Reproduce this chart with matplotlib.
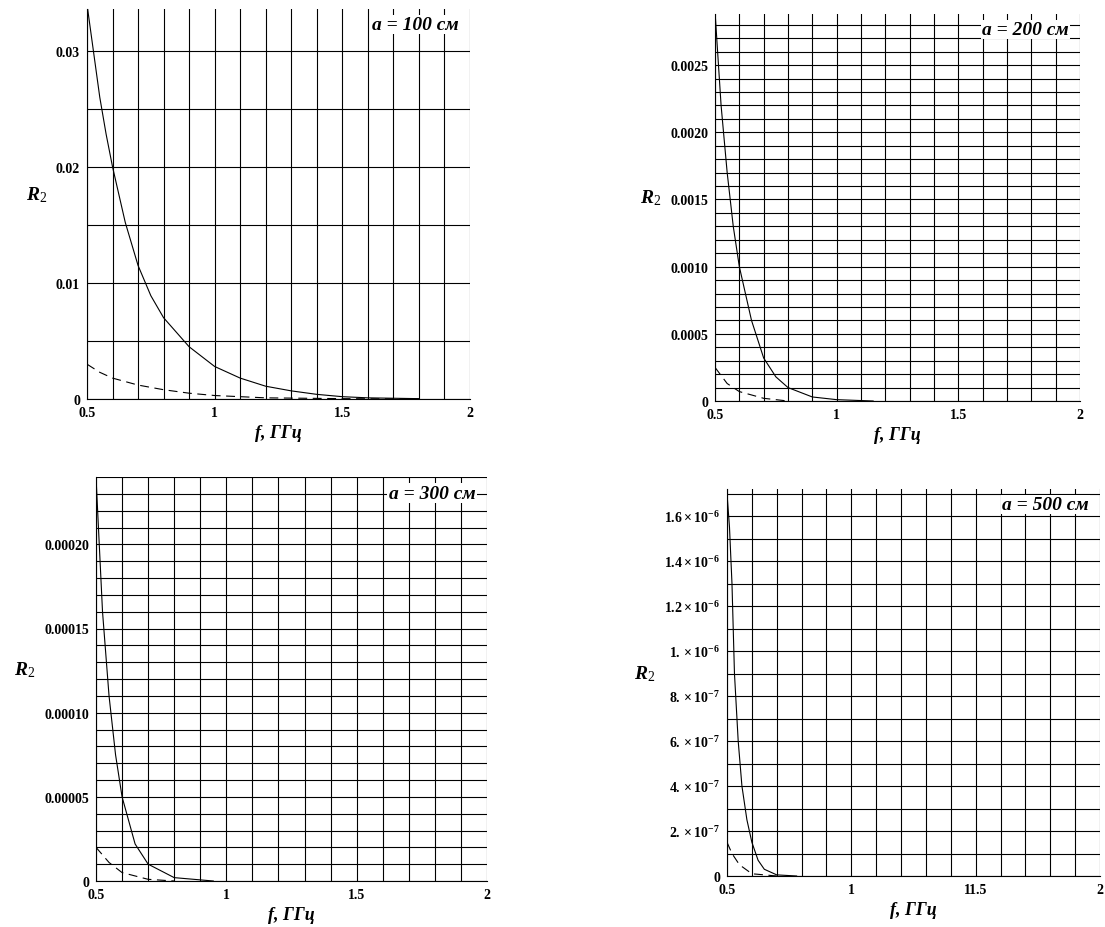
import matplotlib
matplotlib.use("Agg")
import matplotlib.pyplot as plt
import numpy as np
from matplotlib.ticker import MultipleLocator, FixedLocator, FixedFormatter

plt.rcParams['font.family'] = ['Liberation Serif', 'DejaVu Serif']
plt.rcParams['mathtext.fontset'] = 'custom'
plt.rcParams['mathtext.rm'] = 'Liberation Serif'
plt.rcParams['mathtext.it'] = 'Liberation Serif:italic:bold'
plt.rcParams['mathtext.bf'] = 'Liberation Serif:bold'

f1 = [0.5,0.525,0.55,0.575,0.6,0.65,0.7,0.75,0.8,0.9,1.0,1.1,1.2,1.3,1.4,1.5,1.6,1.8]
s1 = [0.034,0.030,0.026,0.0228,0.020,0.0152,0.0115,0.0089,0.007,0.0045,0.0028,0.0018,0.0011,0.0007,0.0004,0.0002,0.0001,0.00003]
fd1 = [0.5,0.55,0.6,0.7,0.8,0.9,1.0,1.2,1.5,1.8]
d1 = [0.003,0.0023,0.0018,0.0012,0.0008,0.0005,0.0003,0.0001,0.00003,0.0]

f2 = [0.5,0.525,0.55,0.575,0.6,0.65,0.7,0.75,0.8,0.9,1.0,1.15]
s2 = [0.0029,0.0022,0.0017,0.0013,0.0010,0.0006,0.00032,0.00018,0.0001,0.00003,0.00001,0.0]
fd2 = [0.5,0.55,0.6,0.7,0.8]
d2 = [0.00025,0.00013,0.00007,0.00002,0.0]

f3 = [0.5,0.525,0.55,0.575,0.6,0.65,0.7,0.8,0.95]
s3 = [0.00024,0.00016,0.00011,0.000075,0.00005,0.000022,0.00001,0.000002,0.0]
fd3 = [0.5,0.55,0.6,0.7,0.8]
d3 = [0.00002,0.000011,0.000005,0.000001,0.0]

f4 = [0.5,0.51,0.52,0.53,0.545,0.56,0.58,0.6,0.625,0.65,0.7,0.78]
s4 = [1.7e-6,1.55e-6,1.3e-6,0.9e-6,0.6e-6,0.4e-6,0.25e-6,0.15e-6,0.07e-6,0.03e-6,0.005e-6,0.0]
fd4 = [0.5,0.52,0.55,0.6,0.7]
d4 = [1.5e-7,1.0e-7,0.5e-7,0.1e-7,0.0]

titles = ["a = 100 см", "a = 200 см", "a = 300 см", "a = 500 см"]

fig = plt.figure(figsize=(11.05, 9.28), dpi=100)
W, H = 1105, 928
def ax_at(x0, x1, y0, y1):
    return fig.add_axes([x0/W, 1-y1/H, (x1-x0)/W, (y1-y0)/H])

axes = [ax_at(87,470,10,400), ax_at(715,1080,15,402), ax_at(96,487,478,882), ax_at(727,1100,490,877)]
ylims = [0.0336, 0.00288, 0.00024, 1.72e-6]
ymaj = [[0,0.01,0.02,0.03],[0,0.0005,0.0010,0.0015,0.0020,0.0025],
        [0,0.00005,0.00010,0.00015,0.00020],[i*2e-7 for i in range(9)]]
ylab = [["0","0.01","0.02","0.03"],["0","0.0005","0.0010","0.0015","0.0020","0.0025"],
        ["0","0.00005","0.00010","0.00015","0.00020"],
        ["0"]+[r"$\mathbf{%s\times10^{-7}}$"%v for v in ["2.","4.","6.","8."]]+[r"$\mathbf{%s\times10^{-6}}$"%v for v in ["1.","1.2","1.4","1.6"]]]
ygrid = [0.005, 0.0001, 0.00001, 1e-7]
xlabs = [["0.5","1","1.5","2"]]*3 + [["0.5","1","11.5","2"]]
data = [(f1,s1,fd1,d1),(f2,s2,fd2,d2),(f3,s3,fd3,d3),(f4,s4,fd4,d4)]

for i, ax in enumerate(axes):
    fs, ss, fd, dd = data[i]
    ax.plot(fs, ss, color='black', lw=0.8)
    ax.plot(fd, dd, color='black', lw=0.8, ls=(0,(8,5)))
    ax.set_xlim(0.5, 2.0)
    ax.set_ylim(0, ylims[i])
    ax.xaxis.set_major_locator(FixedLocator([0.5,1,1.5,2]))
    ax.xaxis.set_major_formatter(FixedFormatter(xlabs[i]))
    ax.xaxis.set_minor_locator(MultipleLocator(0.1))
    ax.yaxis.set_major_locator(FixedLocator(ymaj[i]))
    ax.yaxis.set_major_formatter(FixedFormatter(ylab[i]))
    ax.yaxis.set_minor_locator(MultipleLocator(ygrid[i]))
    ax.grid(which='both', color='black', lw=0.8)
    for sp in ['top','right']:
        ax.spines[sp].set_visible(False)
    ax.tick_params(which='both', length=0, labelsize=10, pad=5)
    for t in ax.get_xticklabels()+ax.get_yticklabels():
        t.set_fontweight('bold')
    ax.set_xlabel("f, ГГц", fontsize=13, fontstyle='italic', fontweight='bold')
    ax.set_ylabel("$R_2$", fontsize=14, rotation=0, labelpad=14)
    ax.text(0.97, 0.96, titles[i], transform=ax.transAxes, ha='right', va='center',
            fontsize=14, fontstyle='italic', fontweight='bold',
            bbox=dict(facecolor='white', edgecolor='none', pad=1))

fig.savefig("out.png", dpi=100)
